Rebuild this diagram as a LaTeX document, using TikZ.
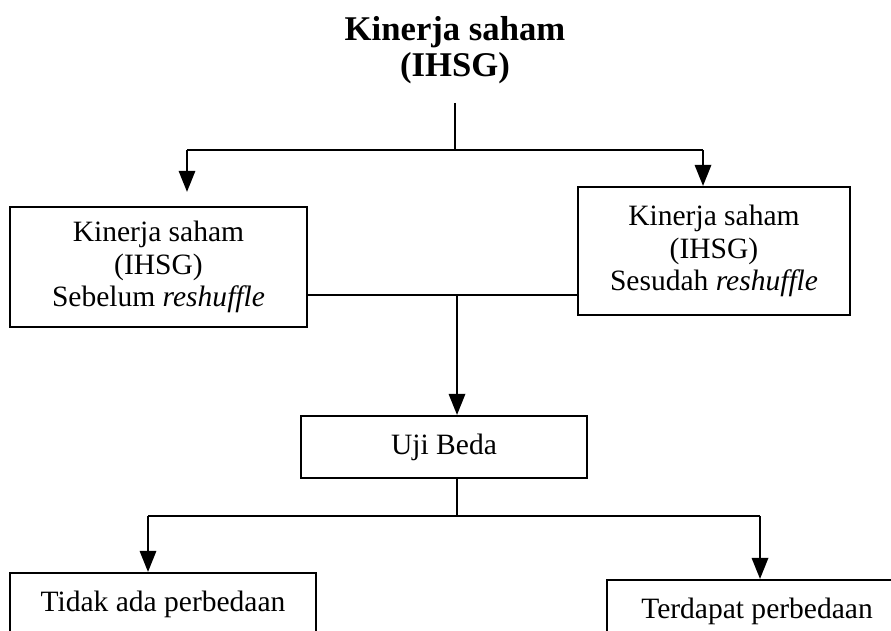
\documentclass[tikz,border=0pt]{standalone}
\usepackage{fontspec}
\setmainfont{Liberation Serif}
\usepackage{tikz}
\usetikzlibrary{arrows.meta, positioning, calc}

\begin{document}
\begin{tikzpicture}[
  x=0.015cm, y=-0.015cm,
  box/.style={rectangle, draw, line width=0.9pt, align=center,
              font=\fontsize{12.6}{13.8}\selectfont, inner sep=0pt,
              minimum width=#1*0.015cm},
  line/.style={line width=0.9pt},
  arr/.style={-{Triangle[length=9pt, width=7pt]}, line width=0.9pt}
]
  \useasboundingbox (0,0) rectangle (891,630);
  \clip (0,0) rectangle (891,630);

  %% Title
  \node[font=\fontsize{14.8}{15.5}\bfseries, align=center] (title) at (455,50)
    {Kinerja saham\\(IHSG)};

  %% Boxes
  \node[box=297, minimum height=120*0.015cm] (sebelum) at (158.5,267)
    {Kinerja saham\\(IHSG)\\Sebelum \textit{reshuffle}};
  \node[box=272, minimum height=128*0.015cm] (sesudah) at (714,251)
    {Kinerja saham\\(IHSG)\\Sesudah \textit{reshuffle}};
  \node[box=286, minimum height=62*0.015cm] (uji) at (444,447) {Uji Beda};
  \node[box=306, minimum height=70*0.015cm] (tidak) at (163,608)
    {\raisebox{6pt}{Tidak ada perbedaan}};
  \node[box=300, minimum height=70*0.015cm] (terdapat) at (757,615)
    {\raisebox{6pt}{Terdapat perbedaan}};

  %% Junction points
  \coordinate (top) at (455,103);
  \coordinate (split1) at (455,150);
  \coordinate (l1) at (187,150);
  \coordinate (r1) at (703,150);
  \coordinate (mid) at (457,295);
  \coordinate (split2) at (457,516);
  \coordinate (l2) at (148,516);
  \coordinate (r2) at (760,516);

  %% Top split
  \draw[line] (top) -- (split1);
  \draw[line] (l1) -- (r1);
  \draw[arr, shorten >=6pt] (l1) -- (l1 |- sebelum.north);
  \draw[arr] (r1) -- (r1 |- sesudah.north);

  %% Join into the test
  \draw[line] (sebelum.east |- mid) -- (sesudah.west |- mid);
  \draw[arr] (mid) -- (mid |- uji.north);

  %% Bottom split
  \draw[line] (uji.south -| split2) -- (split2);
  \draw[line] (l2) -- (r2);
  \draw[arr] (l2) -- (l2 |- tidak.north);
  \draw[arr] (r2) -- (r2 |- terdapat.north);
\end{tikzpicture}
\end{document}
